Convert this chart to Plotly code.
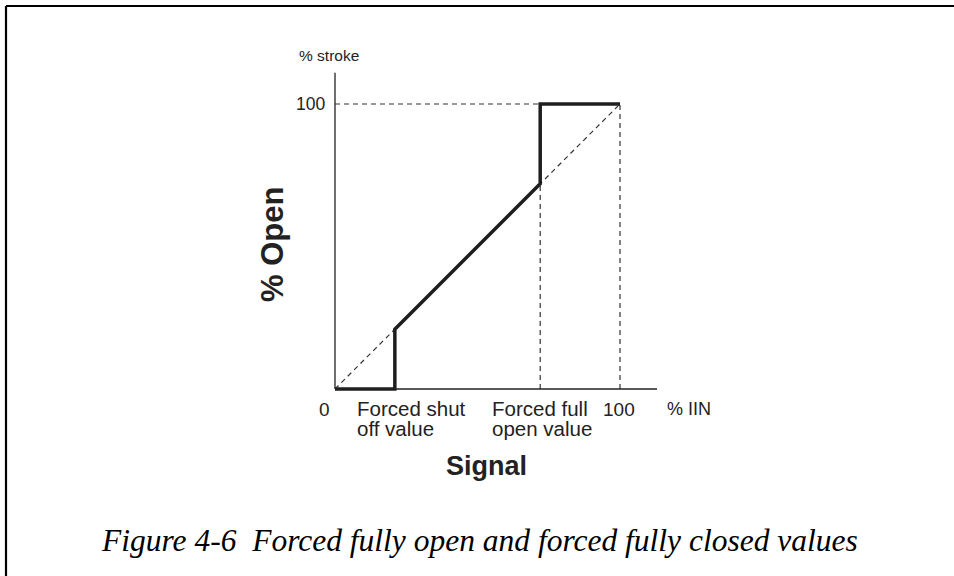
import plotly.graph_objects as go

# ---- data ----
signal_pct = [0, 21, 21, 72, 72, 100]
open_pct = [0, 0, 21, 72, 100, 100]
linear_x = [0, 100]
linear_y = [0, 100]
forced_shut_value = 21
forced_open_value = 72
full_scale = 100

W, H = 954, 576
X0, Y0, S = 335, 389, 2.85  # pixel of origin, px per unit


def px(x):
    return x / W


def py(y):
    return 1 - y / H


fig = go.Figure()

dash_style = dict(color="#333333", width=1.2, dash="5px,4px")

# linear reference (dashed diagonal)
fig.add_trace(go.Scatter(x=linear_x, y=linear_y, mode="lines", line=dash_style, hoverinfo="skip"))
# guide lines
fig.add_trace(go.Scatter(x=[0, forced_open_value], y=[full_scale, full_scale], mode="lines", line=dash_style, hoverinfo="skip"))
fig.add_trace(go.Scatter(x=[forced_open_value, forced_open_value], y=[0, forced_open_value], mode="lines", line=dash_style, hoverinfo="skip"))
fig.add_trace(go.Scatter(x=[full_scale, full_scale], y=[0, full_scale], mode="lines", line=dash_style, hoverinfo="skip"))
# characteristic (bold)
fig.add_trace(go.Scatter(x=signal_pct, y=open_pct, mode="lines",
                         line=dict(color="#1e1e1e", width=3.5), hoverinfo="skip"))

xr = [-X0 / S, (W - X0) / S]
yr = [-(H - Y0) / S, Y0 / S]

fig.update_layout(
    width=W, height=H, margin=dict(l=0, r=0, t=0, b=0),
    paper_bgcolor="white", plot_bgcolor="white", showlegend=False,
    xaxis=dict(range=xr, visible=False, fixedrange=True),
    yaxis=dict(range=yr, visible=False, fixedrange=True),
    font=dict(family="Liberation Sans, Arial, sans-serif", color="#222222"),
)

# axis lines
fig.add_shape(type="line", x0=0, y0=0, x1=113, y1=0, line=dict(color="#222", width=1.3))
fig.add_shape(type="line", x0=0, y0=0, x1=0, y1=111, line=dict(color="#222", width=1.3))

# border (top and left)
fig.add_shape(type="line", xref="paper", yref="paper", x0=px(6), y0=py(6), x1=1.01, y1=py(6), line=dict(color="black", width=2.2))
fig.add_shape(type="line", xref="paper", yref="paper", x0=px(6), y0=py(6), x1=px(6), y1=-0.01, line=dict(color="black", width=2.2))


def ann(text, x, y, xanchor="center", yanchor="middle", size=19, **kw):
    fig.add_annotation(text=text, xref="paper", yref="paper", x=px(x), y=py(y),
                       xanchor=xanchor, yanchor=yanchor, showarrow=False,
                       font=dict(size=size, **kw.pop("font", {})), align="left", **kw)


ann("% stroke", 329, 56, size=15.5)
ann("100", 327, 104, xanchor="right", size=17.5)
ann("0", 324, 409)
ann("Forced shut", 355, 408, xanchor="left", size=20.5)
ann("off value", 355, 428, xanchor="left", size=20.5)
ann("Forced full", 490, 408, xanchor="left", size=20.5)
ann("open value", 490, 428, xanchor="left", size=20.5)
ann("100", 619, 409)
ann("% IIN", 665, 409, xanchor="left", size=18)
ann("<b>Signal</b>", 487, 466, size=27)
ann("<b>% Open</b>", 272, 245, size=31, textangle=-90)
ann("<i>Figure 4-6  Forced fully open and forced fully closed values</i>", 479, 540, size=31.5,
    font=dict(family="Liberation Serif, Times New Roman, serif", color="black"))

fig.write_html("out.html", config={"displayModeBar": False},
               post_script="document.body.style.margin='0';document.body.style.padding='0';")
